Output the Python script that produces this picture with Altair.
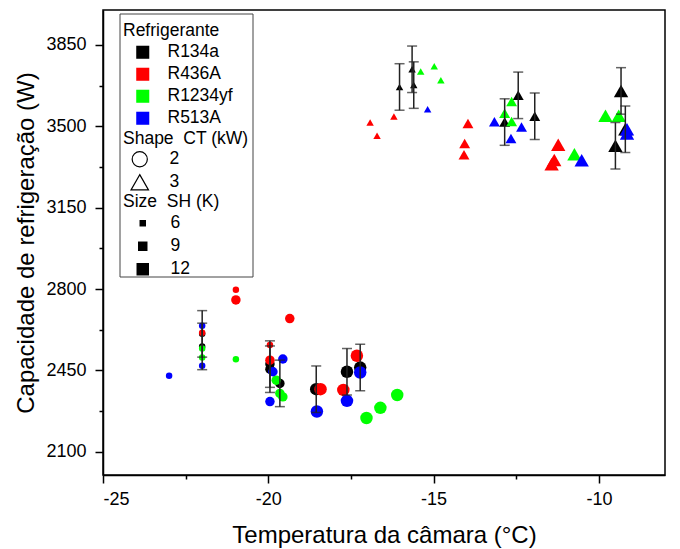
import altair as alt
import pandas as pd

# Refrigerants and their colours
refrigerantes = ["R134a", "R436A", "R1234yf", "R513A"]
cores = ["#000000", "#ff0000", "#00ff00", "#0000ff"]

# R134a: chamber temperature (°C), capacity (W), CT (kW), SH (K), std. deviation (W)
r134a_temp = [-22.0, -22.0, -19.95, -19.95, -19.65, -18.55, -17.62, -17.22,
              -16.03, -15.65, -15.60, -12.44, -12.85, -11.94, -9.33, -9.50, -9.20]
r134a_cap = [2607, 2553, 2477, 2455, 2394, 2369, 2444, 2462,
             3669, 3745, 3677, 3633, 3518, 3543, 3652, 3416, 3487]
r134a_ct = [2, 2, 2, 2, 2, 2, 2, 2, 3, 3, 3, 3, 3, 3, 3, 3, 3]
r134a_sh = [6, 6, 9, 9, 9, 12, 12, 12, 6, 6, 6, 9, 9, 9, 12, 12, 12]
r134a_desvio = [100, 100, 100, 100, 100, 100, 100, 100,
                100, 100, 100, 100, 100, 100, 100, 100, 100]

# R436A
r436a_temp = [-22.0, -20.98, -19.95, -20.98, -19.35, -19.95, -18.42, -17.73, -17.32,
              -16.92, -16.71, -16.20, -13.96, -14.06, -14.08, -11.23, -11.35, -11.43]
r436a_cap = [2612, 2797, 2559, 2753, 2673, 2494, 2369, 2366, 2513,
             3516, 3459, 3542, 3512, 3426, 3377, 3420, 3355, 3337]
r436a_ct = [2, 2, 2, 2, 2, 2, 2, 2, 2, 3, 3, 3, 3, 3, 3, 3, 3, 3]
r436a_sh = [6, 6, 6, 9, 9, 9, 12, 12, 12, 6, 6, 6, 9, 9, 9, 12, 12, 12]

# R1234yf
r1234yf_temp = [-22.0, -22.0, -20.98, -19.76, -19.65, -19.56, -17.03, -16.61, -16.10,
                -15.39, -14.98, -14.78, -12.64, -12.85, -12.64, -10.74, -9.80, -9.40]
r1234yf_cap = [2544, 2505, 2498, 2408, 2351, 2336, 2245, 2289, 2344,
               3735, 3758, 3698, 3606, 3556, 3520, 3380, 3545, 3545]
r1234yf_ct = [2, 2, 2, 2, 2, 2, 2, 2, 2, 3, 3, 3, 3, 3, 3, 3, 3, 3]
r1234yf_sh = [6, 6, 6, 9, 9, 9, 12, 12, 12, 6, 6, 6, 9, 9, 9, 12, 12, 12]

# R513A
r513a_temp = [-23.0, -22.0, -22.0, -19.56, -19.86, -19.95, -18.53, -17.62, -17.22,
              -15.18, -13.16, -12.34, -12.66, -10.52, -9.15, -9.15]
r513a_cap = [2427, 2642, 2470, 2499, 2444, 2316, 2273, 2319, 2441,
             3573, 3519, 3497, 3447, 3354, 3487, 3469]
r513a_ct = [2, 2, 2, 2, 2, 2, 2, 2, 2, 3, 3, 3, 3, 3, 3, 3]
r513a_sh = [6, 6, 6, 9, 9, 9, 12, 12, 12, 6, 9, 9, 9, 12, 12, 12]

# Axis ticks
x_major = [-25, -20, -15, -10]
x_minor = [-22.5, -17.5, -12.5]
y_major = [2100, 2450, 2800, 3150, 3500, 3850]
y_minor = [2275, 2625, 2975, 3325, 3675]

series = [
    ("R134a", r134a_temp, r134a_cap, r134a_ct, r134a_sh),
    ("R436A", r436a_temp, r436a_cap, r436a_ct, r436a_sh),
    ("R1234yf", r1234yf_temp, r1234yf_cap, r1234yf_ct, r1234yf_sh),
    ("R513A", r513a_temp, r513a_cap, r513a_ct, r513a_sh),
]
df = pd.concat(
    [pd.DataFrame({"temp": t, "cap": c, "ref": n, "ct": ct, "sh": sh})
     for n, t, c, ct, sh in series],
    ignore_index=True,
)
df["ordem"] = range(len(df))

erros = pd.DataFrame({
    "temp": r134a_temp,
    "lo": [c - d for c, d in zip(r134a_cap, r134a_desvio)],
    "hi": [c + d for c, d in zip(r134a_cap, r134a_desvio)],
})

FONT = "Liberation Sans"
TRI = "M0,-1L1.15,1L-1.15,1Z"

xs = alt.Scale(domain=[-25, -8], nice=False, zero=False)
ys = alt.Scale(domain=[2000, 4000], nice=False, zero=False)

# Frame around the legends
caixa = alt.Chart(alt.Data(values=[{}])).mark_rect(
    fill="white", stroke="#444", strokeWidth=1
).encode(x=alt.value(17), x2=alt.value(150), y=alt.value(4), y2=alt.value(267))

pontos = alt.Chart(df).mark_point(filled=True, opacity=1).encode(
    x=alt.X("temp:Q", scale=xs, title="Temperatura da câmara (°C)",
            axis=alt.Axis(values=x_major, orient="bottom", labelExpr="'' + datum.value",
                          tickSize=8, labelPadding=7, titlePadding=15)),
    y=alt.Y("cap:Q", scale=ys, title="Capacidade de refrigeração (W)",
            axis=alt.Axis(values=y_major, orient="left", labelExpr="'' + datum.value",
                          tickSize=8, labelPadding=9, titlePadding=7)),
    color=alt.Color("ref:N", scale=alt.Scale(domain=refrigerantes, range=cores),
                    legend=alt.Legend(title="Refrigerante", orient="none", legendX=20, legendY=12,
                                      symbolType="square", symbolSize=170, symbolStrokeWidth=0,
                                      symbolOffset=11, labelOffset=16, rowPadding=3,
                                      titlePadding=4)),
    shape=alt.Shape("ct:N", scale=alt.Scale(domain=[2, 3], range=["circle", TRI]),
                    legend=alt.Legend(title="Shape\u00a0\u00a0CT (kW)", orient="none",
                                      legendX=20, legendY=120, symbolSize=230,
                                      symbolOffset=8, labelOffset=21, rowPadding=2, titlePadding=3,
                                      symbolFillColor="white", symbolStrokeColor="black",
                                      symbolStrokeWidth=1.2)),
    size=alt.Size("sh:O", scale=alt.Scale(type="ordinal", domain=[6, 9, 12], range=[42, 90, 156]),
                  legend=alt.Legend(title="Size\u00a0\u00a0SH (K)", orient="none",
                                    legendX=20, legendY=183, symbolType="square",
                                    symbolOffset=11, labelOffset=19, rowPadding=4, titlePadding=4,
                                    symbolFillColor="black", symbolStrokeColor="black",
                                    symbolStrokeWidth=0)),
    order=alt.Order("ordem:Q"),
)

barras = alt.Chart(erros).mark_rule(color="#222", strokeWidth=1.5).encode(
    x=alt.X("temp:Q", scale=xs, axis=None),
    y=alt.Y("lo:Q", scale=ys, axis=None),
    y2="hi:Q",
)
topo = alt.Chart(erros).mark_tick(color="#222", thickness=1.5, size=10, orient="horizontal").encode(
    x=alt.X("temp:Q", scale=xs, axis=None),
    y=alt.Y("hi:Q", scale=ys, axis=None),
)
base = alt.Chart(erros).mark_tick(color="#222", thickness=1.5, size=10, orient="horizontal").encode(
    x=alt.X("temp:Q", scale=xs, axis=None),
    y=alt.Y("lo:Q", scale=ys, axis=None),
)

# Minor ticks on both axes
menores = alt.Chart(df).mark_point(opacity=0).encode(
    x=alt.X("temp:Q", scale=xs, title=None,
            axis=alt.Axis(values=x_minor, orient="bottom", labels=False, tickSize=4,
                          domain=False, grid=False)),
    y=alt.Y("cap:Q", scale=ys, title=None,
            axis=alt.Axis(values=y_minor, orient="left", labels=False, tickSize=4,
                          domain=False, grid=False)),
)

chart = alt.layer(caixa, pontos, barras, topo, base, menores).resolve_axis(
    x="independent", y="independent"
).properties(
    width=562, height=465,
    padding={"left": 103, "top": 10, "right": 15, "bottom": 74},
    autosize=alt.AutoSizeParams(type="none"),
    background="white",
).configure_view(
    stroke="black", strokeWidth=1.5
).configure_axis(
    domainColor="black", domainWidth=1.5, tickColor="black", tickWidth=1.5,
    labelColor="black", titleColor="black", labelFont=FONT, titleFont=FONT,
    labelFontSize=18, titleFontSize=24, titleFontWeight="normal", grid=False,
).configure_legend(
    labelFont=FONT, titleFont=FONT, labelFontSize=17.5, titleFontSize=17.5,
    titleFontWeight="normal", labelColor="black", titleColor="black", padding=0,
)

chart.save("out.html", embed_options={"renderer": "svg", "actions": False})
